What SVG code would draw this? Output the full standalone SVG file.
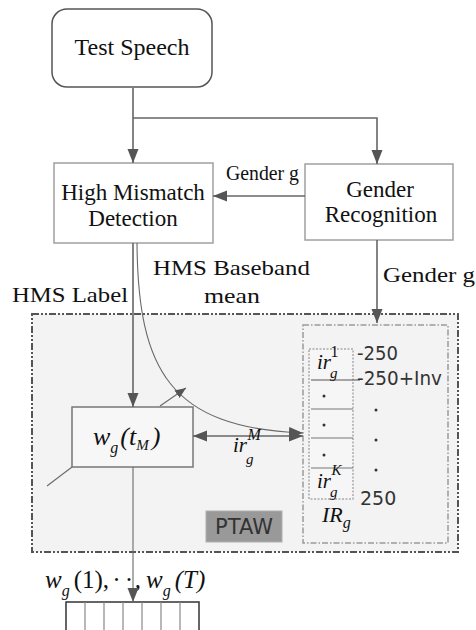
<svg xmlns="http://www.w3.org/2000/svg" width="476" height="630" viewBox="0 0 476 630">
  <defs>
    <style>
      .serif { font-family: "Liberation Serif", "Times New Roman", serif; fill: #111; }
      .math { font-family: "Liberation Serif", "Times New Roman", serif; font-style: italic; fill: #111; }
      .sans { font-family: "DejaVu Sans", "Liberation Sans", sans-serif; fill: #333; }
      .box { fill: #ffffff; stroke: #a0a0a0; stroke-width: 1.5; }
      .wire { fill: none; stroke: #666; stroke-width: 1.6; }
      .thin { fill: none; stroke: #6a6a6a; stroke-width: 1.1; }
    </style>
    <marker id="arrow" markerUnits="userSpaceOnUse" markerWidth="15" markerHeight="12" refX="14" refY="5.5" orient="auto-start-reverse">
      <path d="M0,0 L14,5.5 L0,11 z" fill="#555"/>
    </marker>
    <marker id="arrowSmall" markerUnits="userSpaceOnUse" markerWidth="12" markerHeight="10" refX="11" refY="4.5" orient="auto">
      <path d="M0,0 L11,4.5 L0,9 z" fill="#555"/>
    </marker>
  </defs>

  <rect width="476" height="630" fill="#ffffff"/>

  <!-- PTAW region -->
  <g id="ptaw-region">
    <rect x="32" y="314" width="426" height="238" fill="#f3f3f3" stroke="#555" stroke-width="2" stroke-dasharray="7 2 2 2 2 2"/>
    <rect x="206" y="511" width="76" height="31" fill="#999" stroke="#b0b0b0" stroke-width="1"/>
    <text x="244" y="534" class="sans" font-size="21" text-anchor="middle">PTAW</text>
  </g>

  <!-- Test Speech -->
  <g id="test-speech">
    <rect x="52" y="9" width="160" height="78" rx="15" ry="15" fill="#fff" stroke="#555" stroke-width="1.5"/>
    <text x="132" y="55" class="serif" font-size="24" text-anchor="middle">Test Speech</text>
  </g>

  <!-- High Mismatch Detection -->
  <g id="high-mismatch-detection">
    <rect x="54" y="163" width="159" height="80" class="box"/>
    <text x="133" y="200" class="serif" font-size="23" text-anchor="middle">High Mismatch</text>
    <text x="133" y="226" class="serif" font-size="23" text-anchor="middle">Detection</text>
  </g>

  <!-- Gender Recognition -->
  <g id="gender-recognition">
    <rect x="305" y="164" width="148" height="76" class="box"/>
    <text x="380" y="197" class="serif" font-size="23" text-anchor="middle">Gender</text>
    <text x="381" y="222" class="serif" font-size="23" text-anchor="middle">Recognition</text>
  </g>

  <!-- Weight estimator w_g(t_M) -->
  <g id="weight-node">
    <rect x="72" y="407" width="121" height="60" fill="#f7f7f7" stroke="#777" stroke-width="1.5"/>
    <text x="93" y="445" class="math" font-size="26">w<tspan font-size="16" dy="8">g</tspan><tspan dy="-8" dx="2" font-size="26">(</tspan><tspan font-size="26">t</tspan><tspan font-size="15" dy="5">M</tspan><tspan dy="-5" dx="3" font-size="26">)</tspan></text>
  </g>

  <!-- Interval bank IR_g -->
  <g id="interval-bank">
    <rect x="303" y="325" width="145" height="218" fill="none" stroke="#9a9a9a" stroke-width="1.5" stroke-dasharray="6 2 1.5 2"/>
    <rect x="309" y="349" width="44" height="150" fill="#f6f6f6" stroke="#aaa" stroke-width="1.5" stroke-dasharray="2 1.5"/>
    <line x1="311" y1="380" x2="360" y2="380" stroke="#555" stroke-width="1.2"/>
    <line x1="311" y1="409" x2="353" y2="409" stroke="#777" stroke-width="1.2"/>
    <line x1="311" y1="438" x2="353" y2="438" stroke="#777" stroke-width="1.2"/>
    <line x1="311" y1="468" x2="353" y2="468" stroke="#777" stroke-width="1.2"/>
    <g fill="#333">
      <circle cx="324" cy="396" r="1.5"/>
      <circle cx="324" cy="425" r="1.5"/>
      <circle cx="324" cy="455" r="1.5"/>
      <circle cx="376" cy="410" r="1.5"/>
      <circle cx="376" cy="440" r="1.5"/>
      <circle cx="376" cy="470" r="1.5"/>
    </g>
    <text x="317" y="369" class="math" font-size="21">ir<tspan font-size="15" dy="9" dx="-1">g</tspan><tspan font-size="16" font-style="normal" dx="-7" dy="-21">1</tspan></text>
    <text x="317" y="488" class="math" font-size="21">ir<tspan font-size="15" dy="9" dx="-1">g</tspan><tspan font-size="15" dx="-6" dy="-22">K</tspan></text>
    <text x="357" y="360" class="sans" font-size="19" textLength="41" lengthAdjust="spacingAndGlyphs">-250</text>
    <text x="357" y="385" class="sans" font-size="19" textLength="85" lengthAdjust="spacingAndGlyphs">-250+Inv</text>
    <text x="360" y="505" class="sans" font-size="19">250</text>
    <text x="322" y="522" class="math" font-size="22">IR<tspan font-size="16" dy="6">g</tspan></text>
  </g>

  <!-- Output weight sequence -->
  <g id="weight-sequence">
    <rect x="66" y="602" width="133" height="34" fill="#fff" stroke="#333" stroke-width="1.5"/>
    <g stroke="#888" stroke-width="1.2">
      <line x1="85" y1="602" x2="85" y2="630"/>
      <line x1="104" y1="602" x2="104" y2="630"/>
      <line x1="123" y1="602" x2="123" y2="630"/>
      <line x1="142" y1="602" x2="142" y2="630"/>
      <line x1="161" y1="602" x2="161" y2="630"/>
      <line x1="180" y1="602" x2="180" y2="630"/>
    </g>
    <text x="45" y="588" class="math" font-size="25">w<tspan font-size="16" dy="8">g</tspan><tspan dy="-8" font-style="normal" dx="4">(1),</tspan><tspan dx="4">· ·</tspan><tspan dx="3">,</tspan><tspan dx="5">w</tspan><tspan font-size="16" dy="8">g</tspan><tspan dy="-8" dx="4">(</tspan><tspan>T</tspan><tspan>)</tspan></text>
  </g>

  <!-- Connectors -->
  <g id="connectors">
    <path d="M133,88 V163" class="wire" marker-end="url(#arrow)"/>
    <path d="M133,118 H377 V164" class="wire" marker-end="url(#arrow)"/>
    <path d="M305,196 H213" class="wire" marker-end="url(#arrow)"/>
    <path d="M133,243 V407" class="wire" marker-end="url(#arrow)"/>
    <path d="M377,240 V323" class="wire" marker-end="url(#arrow)"/>
    <path d="M137,243 C138,370 170,428 303,433" class="thin" marker-end="url(#arrow)"/>
    <path d="M193,436 H303" class="wire" marker-start="url(#arrow)" marker-end="url(#arrow)"/>
    <path d="M160,406 L186,388" class="thin" marker-end="url(#arrowSmall)"/>
    <path d="M72,467 L47,486" class="thin"/>
    <path d="M133,467 V602" class="thin" marker-end="url(#arrow)"/>
  </g>

  <!-- Connector labels -->
  <g id="labels">
    <text x="226" y="180" class="serif" font-size="20" textLength="73" lengthAdjust="spacingAndGlyphs">Gender g</text>
    <text x="153" y="275" class="serif" font-size="21" textLength="157" lengthAdjust="spacingAndGlyphs">HMS Baseband</text>
    <text x="204" y="303" class="serif" font-size="21" textLength="56" lengthAdjust="spacingAndGlyphs">mean</text>
    <text x="12" y="302" class="serif" font-size="21" textLength="116" lengthAdjust="spacingAndGlyphs">HMS Label</text>
    <text x="383" y="282" class="serif" font-size="21" textLength="92" lengthAdjust="spacingAndGlyphs">Gender g</text>
    <text x="233" y="452" class="math" font-size="21">ir<tspan font-size="15" dy="12" dx="-1">g</tspan><tspan font-size="16" dx="-6" dy="-24">M</tspan></text>
  </g>
</svg>
